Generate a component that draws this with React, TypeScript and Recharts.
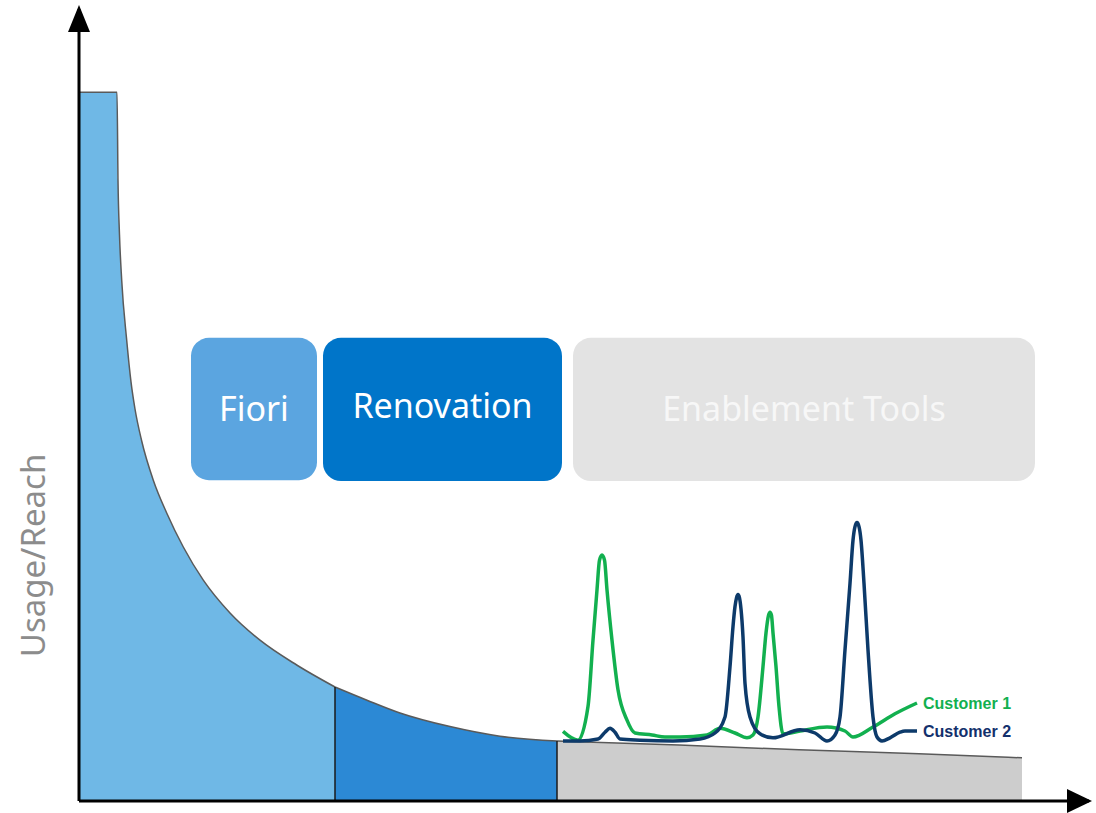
import React from 'react';
import {
  ComposedChart,
  Area,
  Line,
  XAxis,
  YAxis,
  ReferenceArea,
  ReferenceLine,
  ReferenceDot,
} from 'recharts';

// long tail curve, split in three segments (rank -> usage)
const headX = [0, 3.8, 3.9, 4.05, 4.27, 4.77, 5.2, 5.6, 6.27, 7.43, 8.77, 10.43, 12.43, 15.1, 18.1, 21.77, 25.6];
const headY = [88.6, 88.6, 77.6, 70.75, 65.1, 57.6, 52.4, 49.0, 45.0, 40.1, 36.0, 31.75, 27.6, 23.5, 20.1, 17.0, 14.25];

const midX = [25.6, 28.8, 32.1, 37.1, 42.1, 47.8];
const midY = [14.25, 12.6, 11.0, 9.3, 8.1, 7.5];

const tailX = [47.8, 60, 72, 84, 94.3];
const tailY = [7.5, 7.0, 6.4, 5.9, 5.4];

// customer usage lines
const c1X = [48.4, 49.9, 50.9, 51.4, 51.8, 52.05, 52.3, 52.55, 52.8, 53.3, 53.9, 54.8, 55.6, 57.3, 58.6, 60.1, 62.8, 64.1, 65.6, 66.8, 67.4, 67.9, 68.4, 68.7, 68.95, 69.1, 69.25, 69.4, 69.7, 70.0, 70.4, 72.1, 74.8, 76.6, 77.4, 79.4, 81.6, 83.8];
const c1Y = [8.7, 7.6, 11.8, 20.1, 26.4, 30.1, 30.75, 30.1, 26.4, 20.1, 13.9, 10.1, 8.5, 8.25, 8.0, 8.0, 8.25, 9.1, 8.5, 7.9, 8.25, 10.5, 16.8, 21.0, 23.2, 23.6, 23.2, 21.0, 16.8, 11.8, 8.4, 8.75, 9.25, 8.75, 8.0, 9.25, 10.9, 12.25];

const c2X = [48.4, 50.1, 51.9, 52.6, 53.1, 53.6, 54.1, 56.1, 59.4, 62.1, 63.6, 64.6, 65.1, 65.4, 65.6, 65.75, 65.9, 66.05, 66.2, 66.4, 66.6, 67.1, 68.1, 69.4, 72.1, 73.6, 74.8, 75.6, 76.1, 76.6, 77.1, 77.4, 77.6, 77.8, 78.0, 78.2, 78.5, 78.9, 79.4, 79.8, 80.3, 81.1, 82.1, 82.6, 83.8];
const c2Y = [7.5, 7.5, 7.75, 8.6, 9.1, 8.6, 7.75, 7.6, 7.5, 7.75, 8.5, 10.5, 16.8, 21.8, 24.3, 25.4, 25.8, 25.4, 24.0, 20.5, 14.7, 10.5, 8.4, 7.9, 8.9, 8.5, 7.5, 8.25, 10.5, 18.9, 27.2, 32.6, 34.3, 34.8, 34.3, 32.6, 27.2, 18.9, 10.5, 8.0, 7.5, 7.9, 8.6, 8.75, 8.75];

const seriesNames = ['Customer 1', 'Customer 2'];

const toPoints = (xs: number[], ys: number[]) => xs.map((x, i) => ({ x, y: ys[i] }));

const headData = toPoints(headX, headY);
const midData = toPoints(midX, midY);
const tailData = toPoints(tailX, tailY);
const c1Data = toPoints(c1X, c1Y);
const c2Data = toPoints(c2X, c2Y);

const endLabel = (text: string, color: string, lastIndex: number) => (props: any) => {
  if (props.index !== lastIndex) return null;
  return (
    <text
      x={props.x + 6}
      y={props.y + 6}
      fill={color}
      fontSize={16}
      fontWeight={700}
      fontFamily="Liberation Sans, Arial, sans-serif"
    >
      {text}
    </text>
  );
};

const roundedBox = (fill: string) => (p: any) => (
  <rect x={p.x} y={p.y} width={p.width} height={p.height} rx={18} ry={18} fill={fill} />
);

const ArrowUp = (p: any) => (
  <polygon points={`${p.cx},${p.cy - 4} ${p.cx - 11},${p.cy + 23} ${p.cx + 11},${p.cy + 23}`} fill="#000" />
);

const ArrowRight = (p: any) => (
  <polygon points={`${p.cx + 3},${p.cy} ${p.cx - 22},${p.cy - 12} ${p.cx - 22},${p.cy + 12}`} fill="#000" />
);

const YTitle = (props: any) => {
  const { x, y, height } = props.viewBox;
  const cx = x - 46;
  const cy = y + height * 0.69;
  return (
    <text
      x={cx}
      y={cy}
      transform={`rotate(-90, ${cx}, ${cy})`}
      textAnchor="middle"
      dominantBaseline="central"
      fill="#8c8c8c"
      fontSize={33}
    >
      Usage/Reach
    </text>
  );
};

const App: React.FC = () => {
  const last = headX.length - 1;
  const midLast = midX.length - 1;
  return (
    <div style={{ position: 'absolute', left: 0, top: 0, fontFamily: 'Noto Sans, sans-serif', background: '#fff' }}>
      <ComposedChart width={1096} height={813} margin={{ top: 9, right: 7, bottom: 12, left: 79 }}>
        <XAxis type="number" dataKey="x" domain={[0, 101]} allowDataOverflow hide />
        <YAxis type="number" domain={[0, 99]} allowDataOverflow hide />

        <Area data={headData} dataKey="y" type="monotone" fill="#6fb8e6" fillOpacity={1} stroke="#5a5a5a" strokeWidth={1.5} isAnimationActive={false} />
        <Area data={midData} dataKey="y" type="monotone" fill="#2c89d5" fillOpacity={1} stroke="#5a5a5a" strokeWidth={1.5} isAnimationActive={false} />
        <Area data={tailData} dataKey="y" type="monotone" fill="#cdcdcd" fillOpacity={1} stroke="#5a5a5a" strokeWidth={1.5} isAnimationActive={false} />

        <ReferenceLine segment={[{ x: headX[last], y: 0 }, { x: headX[last], y: headY[last] }]} stroke="#1a1a1a" strokeWidth={1.5} />
        <ReferenceLine segment={[{ x: midX[midLast], y: 0 }, { x: midX[midLast], y: midY[midLast] }]} stroke="#1a1a1a" strokeWidth={1.5} />

        <ReferenceArea x1={11.2} x2={23.8} y1={40.1} y2={57.9} shape={roundedBox('#5ba5e0')}
          label={{ value: 'Fiori', position: 'center', fill: '#ffffff', fontSize: 34 }} />
        <ReferenceArea x1={24.4} x2={48.3} y1={40} y2={57.9} shape={roundedBox('#0075c9')}
          label={{ value: 'Renovation', position: 'center', fill: '#ffffff', fontSize: 34, dy: -3 }} />
        <ReferenceArea x1={49.4} x2={95.6} y1={40} y2={57.9} shape={roundedBox('#e3e3e3')}
          label={{ value: 'Enablement Tools', position: 'center', fill: '#f7f7f7', fontSize: 34 }} />

        <Line data={c1Data} dataKey="y" name={seriesNames[0]} type="monotone" stroke="#12b04f" strokeWidth={3.5} dot={false}
          label={endLabel(seriesNames[0], '#12b04f', c1X.length - 1)} isAnimationActive={false} />
        <Line data={c2Data} dataKey="y" name={seriesNames[1]} type="monotone" stroke="#0d3a6a" strokeWidth={3.5} dot={false}
          label={endLabel(seriesNames[1], '#13306c', c2X.length - 1)} isAnimationActive={false} />

        {/* axes with arrow heads */}
        <ReferenceLine segment={[{ x: 0, y: 0 }, { x: 0, y: 99 }]} stroke="#000" strokeWidth={3} label={<YTitle />} />
        <ReferenceLine segment={[{ x: 0, y: 0 }, { x: 101, y: 0 }]} stroke="#000" strokeWidth={3} />
        <ReferenceDot x={0} y={99} shape={ArrowUp} />
        <ReferenceDot x={101} y={0} shape={ArrowRight} />
      </ComposedChart>
    </div>
  );
};

export default App;
